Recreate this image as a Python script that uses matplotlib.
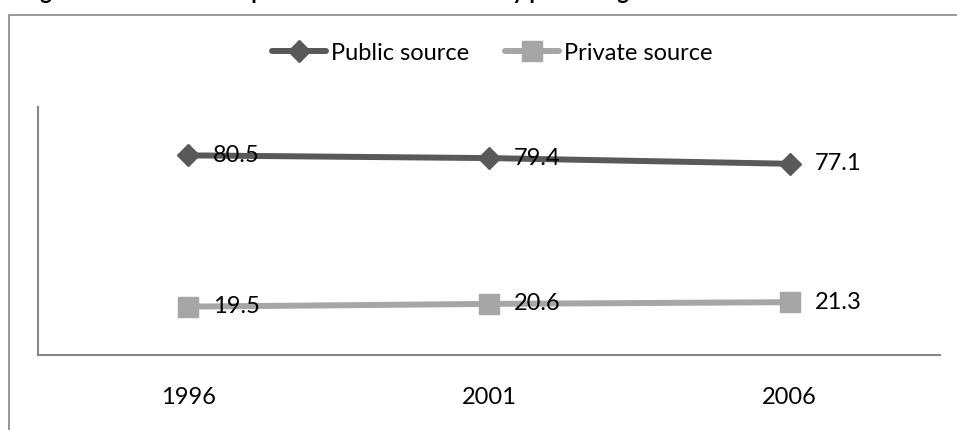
#!/usr/bin/env python3
# -*- coding: utf-8 -*-
# plot.py - public vs. private share of health spending, line chart
import matplotlib

matplotlib.use("Agg")  # Non-interactive backend
import matplotlib.pyplot as plt
from matplotlib.patches import Rectangle

# Daten
years = ["1996", "2001", "2006"]
public_share = [80.5, 79.4, 77.1]
private_share = [19.5, 20.6, 21.3]
title_text = "Figure 3.12: Current expenditure on health care by percentage share"

W, H = 957, 430
FS = 17
plt.rcParams["font.family"] = ["Lato", "DejaVu Sans"]

fig = plt.figure(figsize=(W / 100, H / 100), dpi=100)

# Rahmen um den ganzen Chart-Bereich (rechts/unten ausserhalb des Bildes)
fig.patches.append(
    Rectangle((9 / W, -0.2), 1.2, (H - 15) / H + 0.2, transform=fig.transFigure,
              fill=False, edgecolor="#868686", linewidth=1.2)
)

# Titel, oben abgeschnitten
fig.text(22 / W, 1 + 1 / H, title_text, fontsize=16, fontweight="bold",
         ha="left", va="baseline", color="black")

ax = fig.add_axes([38 / W, (H - 355) / H, (940 - 38) / W, (355 - 107) / H])
x = list(range(len(years)))

ax.plot(x, public_share, color="#595959", linewidth=4.3, marker="D",
        markersize=11, label="Public source", solid_capstyle="round")
ax.plot(x, private_share, color="#A6A6A6", linewidth=4.3, marker="s",
        markersize=14, label="Private source", solid_capstyle="round")

for xi, v in zip(x, public_share):
    ax.annotate(f"{v}", (xi, v), xytext=(18, 0), textcoords="offset points",
                ha="left", va="center", fontsize=FS, color="black")
for xi, v in zip(x, private_share):
    ax.annotate(f"{v}", (xi, v), xytext=(18, 0), textcoords="offset points",
                ha="left", va="center", fontsize=FS, color="black")

ax.set_xlim(-0.5, len(years) - 0.5)
ax.set_ylim(0, 100)
ax.set_xticks(x)
ax.set_xticklabels(years, fontsize=FS)
ax.set_yticks([])
ax.tick_params(axis="x", length=0, pad=23)

for side in ("top", "right"):
    ax.spines[side].set_visible(False)
for side in ("left", "bottom"):
    ax.spines[side].set_color("#868686")
    ax.spines[side].set_linewidth(1.5)

fig.legend(loc="center", bbox_to_anchor=(492 / W, 1 - 53 / H), ncol=2,
           frameon=False, fontsize=FS, handlelength=2.3, handletextpad=0.2,
           columnspacing=1.5)

fig.savefig("out.png", dpi=100)
